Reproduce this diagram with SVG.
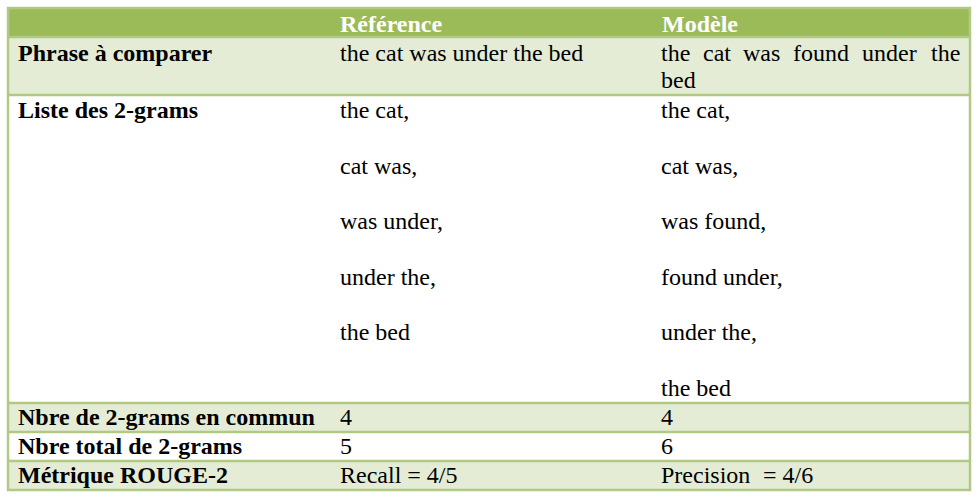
<svg xmlns="http://www.w3.org/2000/svg" width="980" height="498" viewBox="0 0 980 498">
<style>
.t{font-family:"Liberation Serif","Times New Roman",serif;font-size:24px;fill:#000}
.b{font-weight:bold}
.h{font-family:"Liberation Serif","Times New Roman",serif;font-size:24px;font-weight:bold;fill:#fff}
.band{fill:#E5ECD6}
.plain{fill:#fff}
.line{stroke:#B1C982;stroke-width:2.5;fill:none}
</style>
<rect width="980" height="498" fill="#fff"/>
<g id="rows">
<rect x="8" y="8" width="962" height="29" fill="#9BBB59"/>
<rect class="band" x="8" y="37" width="962" height="58"/>
<rect class="plain" x="8" y="95" width="962" height="308"/>
<rect class="band" x="8" y="403" width="962" height="29"/>
<rect class="plain" x="8" y="432" width="962" height="29"/>
<rect class="band" x="8" y="461" width="962" height="29"/>
</g>
<g id="grid">
<line class="line" x1="8" y1="37" x2="970" y2="37"/>
<line class="line" x1="8" y1="95" x2="970" y2="95"/>
<line class="line" x1="8" y1="403" x2="970" y2="403"/>
<line class="line" x1="8" y1="432" x2="970" y2="432"/>
<line class="line" x1="8" y1="461" x2="970" y2="461"/>
<rect class="line" x="8" y="8" width="962" height="482"/>
</g>
<g id="header">
<text class="h" x="340" y="32">Référence</text>
<text class="h" x="662" y="32">Modèle</text>
</g>
<g id="row-phrase">
<text class="t b" x="18" y="61">Phrase à comparer</text>
<text class="t" x="340" y="61">the cat was under the bed</text>
<text class="t" y="61"><tspan x="661">the</tspan><tspan x="703">cat</tspan><tspan x="743">was</tspan><tspan x="793">found</tspan><tspan x="862">under</tspan><tspan x="931">the</tspan></text>
<text class="t" x="661" y="88">bed</text>
</g>
<g id="row-list">
<text class="t b" x="18" y="118">Liste des 2-grams</text>
<text class="t" x="340" y="118">the cat,</text>
<text class="t" x="340" y="174">cat was,</text>
<text class="t" x="340" y="229">was under,</text>
<text class="t" x="340" y="285">under the,</text>
<text class="t" x="340" y="340">the bed</text>
<text class="t" x="661" y="118">the cat,</text>
<text class="t" x="661" y="174">cat was,</text>
<text class="t" x="661" y="229">was found,</text>
<text class="t" x="661" y="285">found under,</text>
<text class="t" x="661" y="340">under the,</text>
<text class="t" x="661" y="396">the bed</text>
</g>
<g id="row-common">
<text class="t b" x="18" y="425">Nbre de 2-grams en commun</text>
<text class="t" x="340" y="425">4</text>
<text class="t" x="661" y="425">4</text>
</g>
<g id="row-total">
<text class="t b" x="18" y="454">Nbre total de 2-grams</text>
<text class="t" x="340" y="454">5</text>
<text class="t" x="661" y="454">6</text>
</g>
<g id="row-metric">
<text class="t b" x="18" y="483">Métrique ROUGE-2</text>
<text class="t" x="340" y="483">Recall = 4/5</text>
<text class="t" y="483"><tspan x="661">Precision</tspan><tspan x="763">= 4/6</tspan></text>
</g>
</svg>
